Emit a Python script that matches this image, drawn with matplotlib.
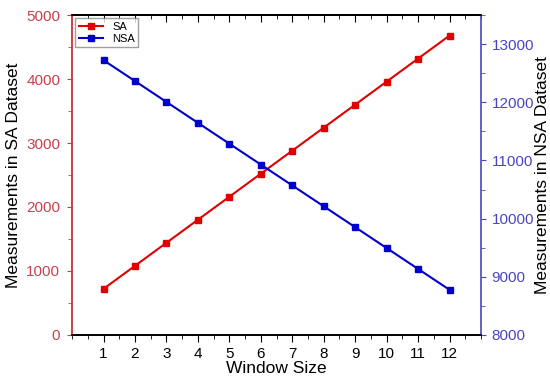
import numpy as np
import matplotlib.pyplot as plt
from matplotlib.ticker import MultipleLocator

window = [1, 2, 3, 4, 5, 6, 7, 8, 9, 10, 11, 12]
sa = [720, 1080, 1440, 1800, 2160, 2520, 2880, 3240, 3600, 3960, 4320, 4680]
nsa = [12725, 12366, 12007, 11648, 11289, 10930, 10571, 10212, 9853, 9494, 9135, 8776]

plt.rcParams['font.family'] = ['Liberation Sans', 'DejaVu Sans']

red_axis = '#c8404e'
blue_axis = '#4a46c0'

fig = plt.figure(figsize=(5.5, 3.78), dpi=100)
ax = fig.add_axes([0.131, 0.114, 0.7435, 0.846])
ax2 = ax.twinx()

l1, = ax.plot(window, sa, color='#e00000', marker='s', markersize=5, lw=1.5, label='SA')
l2, = ax2.plot(window, nsa, color='#0000cc', marker='s', markersize=5, lw=1.5, label='NSA')

ax.set_xlim(0, 13)
ax.set_ylim(0, 5000)
ax2.set_ylim(8000, 13500)
ax.set_xticks(window)
ax.xaxis.set_minor_locator(MultipleLocator(0.5))
ax.yaxis.set_major_locator(MultipleLocator(1000))
ax.yaxis.set_minor_locator(MultipleLocator(500))
ax2.yaxis.set_major_locator(MultipleLocator(1000))
ax2.yaxis.set_minor_locator(MultipleLocator(500))

ax.tick_params(axis='x', which='both', direction='out', labelsize=11, pad=4)
ax.tick_params(axis='x', which='major', length=5)
ax.tick_params(axis='x', which='minor', length=3)
ax.tick_params(axis='y', which='both', colors=red_axis, labelsize=11, pad=5)
ax.tick_params(axis='y', which='minor', length=3)
ax2.tick_params(axis='y', which='both', colors=blue_axis, labelsize=11, pad=4)
ax2.tick_params(axis='y', which='minor', length=3)

# ticks on the top edge point inwards
top = ax.secondary_xaxis('top')
top.set_xticks(window)
top.xaxis.set_minor_locator(MultipleLocator(0.5))
top.tick_params(axis='x', which='both', direction='in', labeltop=False)
top.tick_params(axis='x', which='major', length=5)
top.tick_params(axis='x', which='minor', length=3)
top.spines['top'].set_linewidth(1.2)

ax.spines['left'].set_color(red_axis)
ax2.spines['left'].set_color(red_axis)
ax2.spines['right'].set_color(blue_axis)
ax.spines['right'].set_visible(False)
for a in (ax, ax2):
    for s in a.spines.values():
        s.set_linewidth(1.2)

ax.set_xlabel('Window Size', fontsize=12.5, labelpad=0)
ax.set_ylabel('Measurements in SA Dataset', fontsize=12.5, labelpad=4)
ax2.set_ylabel('Measurements in NSA Dataset', fontsize=12.5, labelpad=1)

ax.legend([l1, l2], ['SA', 'NSA'], loc='upper left', fontsize=8,
          handlelength=2.2, borderpad=0.3, labelspacing=0.2,
          fancybox=False, edgecolor='#888888', borderaxespad=0.3)

fig.savefig('out.png', dpi=100)
